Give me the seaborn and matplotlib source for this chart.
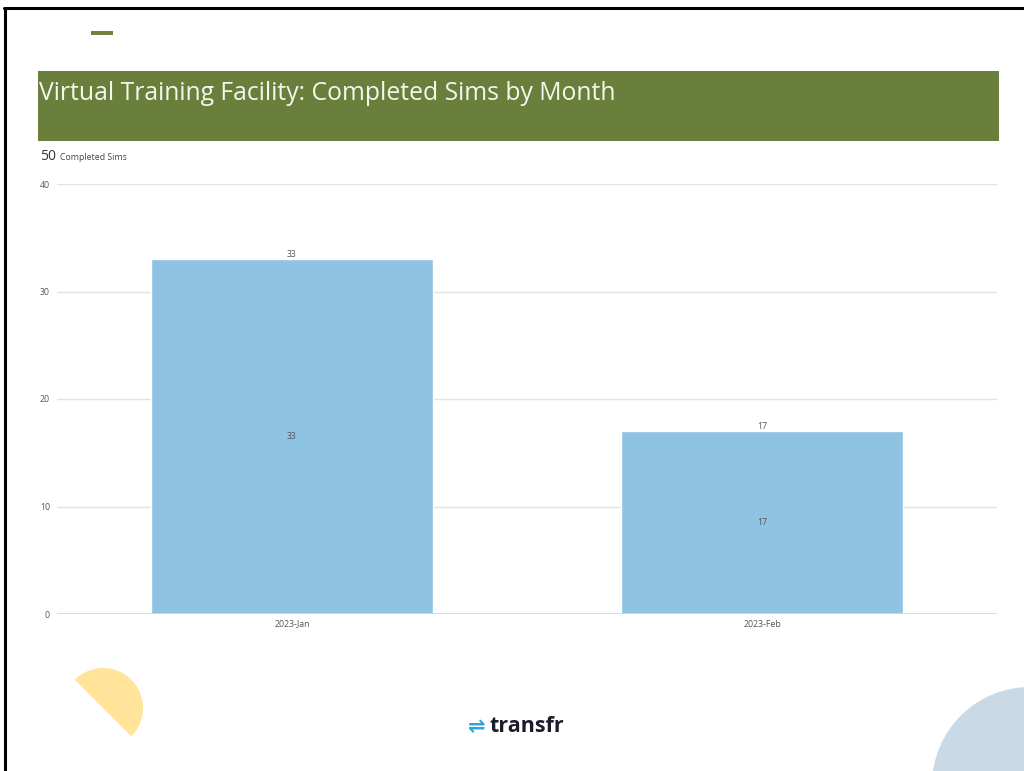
"""Virtual Training Facility: completed sims by month (slide recreation)."""

import pandas as pd
import seaborn as sns
import matplotlib.pyplot as plt
from matplotlib.patches import Rectangle, Wedge, Circle
from matplotlib.lines import Line2D

meses = ['2023-Jan', '2023-Feb']
sims_concluidas = [33, 17]
total_sims = 50
y_ticks = [0, 10, 20, 30, 40]

titulo = 'Virtual Training Facility: Completed Sims by Month'

W, H = 1024, 771


def fx(px):
    return px / W


def fy(py):
    return (H - py) / H


sns.set_theme(style='white')
plt.rcParams['font.family'] = ['Open Sans', 'DejaVu Sans']

fig = plt.figure(figsize=(10.24, 7.71), dpi=100)

# moldura do slide
fig.add_artist(Line2D([fx(4), 1], [fy(8), fy(8)], color='black', lw=2.2))
fig.add_artist(Line2D([fx(5), fx(5)], [fy(8), 0], color='black', lw=2.2))

# traço decorativo e cabeçalho verde
fig.add_artist(Rectangle((fx(91), fy(35)), fx(22), 4 / H, color='#76803a', lw=0))
fig.add_artist(Rectangle((fx(38), fy(141)), fx(961), 70 / H, color='#6a7f3b', lw=0))
fig.text(fx(39), fy(94), titulo, color='#f4f7ec', fontsize=17.8, va='center', ha='left')

fig.text(fx(40), fy(157), str(total_sims), color='#333333', fontsize=10, va='center')
fig.text(fx(60), fy(158), 'Completed Sims', color='#444444', fontsize=6.3, va='center')

# formas decorativas (em pixels, eixo y invertido)
ax_bg = fig.add_axes([0, 0, 1, 1], zorder=-1)
ax_bg.set_xlim(0, W)
ax_bg.set_ylim(H, 0)
ax_bg.axis('off')
ax_bg.add_patch(Wedge((103, 708), 40, -135, 45, color='#ffe49a', lw=0))
ax_bg.add_patch(Circle((1030, 785), 98, color='#c9d9e6', lw=0))

# logo
fig.text(fx(468), fy(727), '⇌', color='#2aa6df', fontsize=15, va='center', ha='left',
         family=['DejaVu Sans'], fontweight='bold')
fig.text(fx(489), fy(726), 'transfr', color='#1b1d2b', fontsize=15.5, va='center', ha='left',
         fontweight='bold')

# gráfico
df = pd.DataFrame({'mes': meses, 'sims': sims_concluidas})
ax = fig.add_axes([fx(57), fy(614), fx(940), (614 - 184) / H])
sns.barplot(data=df, x='mes', y='sims', color='#8ec3e3', saturation=1, width=0.6, ax=ax)
for c in ax.containers:
    ax.bar_label(c, fontsize=6.3, color='#555555', padding=0)
    ax.bar_label(c, fontsize=6.3, color='#555555', label_type='center')

ax.set_xlim(-0.5, 1.5)
ax.set_ylim(0, 40)
ax.set_yticks(y_ticks)
ax.yaxis.grid(True, color='#e3e3e3', lw=1)
ax.set_axisbelow(True)
ax.axhline(0, color='#d6d6d6', lw=1.2)
for s in ax.spines.values():
    s.set_visible(False)
ax.tick_params(axis='both', length=0, labelsize=6.3, labelcolor='#555555')
ax.tick_params(axis='y', pad=5)
ax.tick_params(axis='x', pad=4)
ax.set_xlabel('')
ax.set_ylabel('')
ax.patch.set_alpha(0)

fig.savefig('out.png', dpi=100, facecolor='white')
